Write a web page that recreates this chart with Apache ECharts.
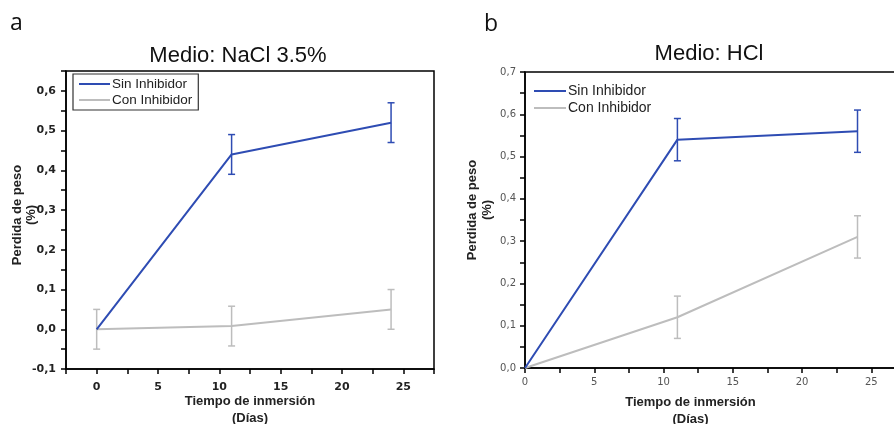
<!DOCTYPE html>
<html><head><meta charset="utf-8">
<script src="https://cdn.jsdelivr.net/npm/echarts@6/dist/echarts.min.js"></script>
<style>html,body{margin:0;padding:0;background:#fff}#c{width:894px;height:424px}</style>
</head><body><div id="c"></div>
<script>
// ---- data ----
const days = [0, 11, 24];
const aSin = [0, 0.44, 0.52];
const aSinErr = [0, 0.05, 0.05];
const aCon = [0, 0.008, 0.05];
const aConErr = [0.05, 0.05, 0.05];
const bSin = [0, 0.54, 0.56];
const bSinErr = [0, 0.05, 0.05];
const bCon = [0, 0.12, 0.31];
const bConErr = [0, 0.05, 0.05];
const seriesNames = ['Sin Inhibidor', 'Con Inhibidor'];
const titles = ['Medio: NaCl 3.5%', 'Medio: HCl'];
const panelLetters = ['a', 'b'];
const yName = 'Perdida de peso\n(%)';
const xName = 'Tiempo de inmersión\n(Días)';

const BLUE = '#2e4cb3', GRAY = '#bdbdbd';
const FONT = 'Liberation Sans, Arial, sans-serif';
const TICKFONT = 'DejaVu Sans, Verdana, sans-serif';

function pts(ys){ return days.map((d,i)=>[d, ys[i]]); }
function errPts(ys, es){
  const out = [];
  days.forEach((d,i)=>{ if (es[i] > 0) out.push([d, ys[i]-es[i], ys[i]+es[i]]); });
  return out;
}
function errRender(color, cap){
  return function(params, api){
    const x = api.value(0), lo = api.value(1), hi = api.value(2);
    const p1 = api.coord([x, hi]), p2 = api.coord([x, lo]);
    const st = {stroke: color, lineWidth: 1.5};
    return {type:'group', children:[
      {type:'line', shape:{x1:p1[0],y1:p1[1],x2:p2[0],y2:p2[1]}, style:st},
      {type:'line', shape:{x1:p1[0]-cap,y1:p1[1],x2:p1[0]+cap,y2:p1[1]}, style:st},
      {type:'line', shape:{x1:p2[0]-cap,y1:p2[1],x2:p2[0]+cap,y2:p2[1]}, style:st}
    ]};
  };
}
const fmtY = v => (Math.abs(v*10 - Math.round(v*10)) < 1e-6) ? v.toFixed(1).replace('.', ',').replace('-0,0','0,0') : '';
const fmtX = v => (Math.abs(v % 5) < 1e-6 && v >= 0 && v <= 25) ? String(v) : '';

const chart = echarts.init(document.getElementById('c'), null, {renderer:'canvas'});
const axisLine = {show:true, onZero:false, lineStyle:{color:'#000', width:1.5}};

chart.setOption({
  animation:false,
  backgroundColor:'#fff',
  title:[
    {text:panelLetters[0], left:5, top:7, textStyle:{fontFamily:'Open Sans, sans-serif', fontSize:23, fontWeight:'normal', color:'#111'}},
    {text:panelLetters[1], left:479, top:8, textStyle:{fontFamily:'Open Sans, sans-serif', fontSize:23, fontWeight:'normal', color:'#111'}},
    {text:titles[0], left:233, top:40, textAlign:'center', textStyle:{fontFamily:FONT, fontSize:22, fontWeight:'normal', color:'#111'}},
    {text:titles[1], left:704, top:38, textAlign:'center', textStyle:{fontFamily:FONT, fontSize:22, fontWeight:'normal', color:'#111'}}
  ],
  legend:[
    {data:seriesNames, orient:'vertical', left:73, top:74, itemWidth:31, itemHeight:2, icon:'rect', itemGap:2,
     padding:[3,6,3,6], borderColor:'#333', borderWidth:1.2,
     textStyle:{fontFamily:FONT, fontSize:13.5, color:'#222', padding:[0,0,0,-3]}},
    {data:seriesNames, orient:'vertical', left:530, top:84, itemWidth:32, itemHeight:2, icon:'rect', itemGap:3,
     padding:[0,0,0,4],
     textStyle:{fontFamily:FONT, fontSize:14, color:'#222', padding:[0,0,0,-3]}}
  ],
  grid:[
    {left:66, top:71, width:368, height:298, show:true, borderColor:'#000', borderWidth:1.5, outerBoundsMode:'none', containLabel:false},
    {left:525, top:72, width:381, height:296, show:true, borderColor:'#000', borderWidth:1.5, outerBoundsMode:'none', containLabel:false}
  ],
  xAxis:[
    {gridIndex:0, type:'value', min:-2.5, max:27.5, interval:2.5, axisLine,
     axisTick:{show:true, inside:false, length:5, lineStyle:{color:'#000', width:1.5}},
     splitLine:{show:false},
     axisLabel:{formatter:fmtX, margin:13, fontFamily:TICKFONT, fontSize:11, fontWeight:'bold', color:'#222'},
     name:xName, nameLocation:'middle', nameGap:24, nameMoveOverlap:false,
     nameTextStyle:{fontFamily:FONT, fontSize:13, fontWeight:'bold', color:'#222', lineHeight:17, verticalAlign:'top'}},
    {gridIndex:1, type:'value', min:0, max:27.5, interval:2.5, axisLine,
     axisTick:{show:true, inside:false, length:5, lineStyle:{color:'#000', width:1.5}},
     splitLine:{show:false},
     axisLabel:{formatter:fmtX, margin:9, fontFamily:TICKFONT, fontSize:10, color:'#555'},
     name:xName, nameLocation:'middle', nameGap:26, nameMoveOverlap:false,
     nameTextStyle:{fontFamily:FONT, fontSize:13, fontWeight:'bold', color:'#222', lineHeight:17, verticalAlign:'top', padding:[0,50,0,0]}}
  ],
  yAxis:[
    {gridIndex:0, type:'value', min:-0.1, max:0.65, interval:0.05, axisLine,
     axisTick:{show:true, inside:false, length:5, lineStyle:{color:'#000', width:1.5}},
     splitLine:{show:false},
     axisLabel:{formatter:fmtY, margin:10, fontFamily:TICKFONT, fontSize:11, fontWeight:'bold', color:'#222'},
     name:yName, nameLocation:'middle', nameRotate:90, nameGap:28, nameMoveOverlap:false,
     nameTextStyle:{fontFamily:FONT, fontSize:13, fontWeight:'bold', color:'#222', lineHeight:14, padding:[0,0,0,10]}},
    {gridIndex:1, type:'value', min:0, max:0.7, interval:0.05, axisLine,
     axisTick:{show:true, inside:false, length:5, lineStyle:{color:'#000', width:1.5}},
     splitLine:{show:false},
     axisLabel:{formatter:fmtY, margin:9, fontFamily:TICKFONT, fontSize:10, color:'#555'},
     name:yName, nameLocation:'middle', nameRotate:90, nameGap:30, nameMoveOverlap:false,
     nameTextStyle:{fontFamily:FONT, fontSize:13, fontWeight:'bold', color:'#222', lineHeight:15, padding:[0,0,0,20]}}
  ],
  series:[
    {name:seriesNames[1], type:'line', xAxisIndex:0, yAxisIndex:0, data:pts(aCon), showSymbol:false, color:GRAY, lineStyle:{width:2, color:GRAY}, z:2},
    {name:seriesNames[0], type:'line', xAxisIndex:0, yAxisIndex:0, data:pts(aSin), showSymbol:false, color:BLUE, lineStyle:{width:2, color:BLUE}, z:3},
    {name:'errA1', type:'custom', xAxisIndex:0, yAxisIndex:0, data:errPts(aCon, aConErr), renderItem:errRender(GRAY, 3.5), z:2},
    {name:'errA0', type:'custom', xAxisIndex:0, yAxisIndex:0, data:errPts(aSin, aSinErr), renderItem:errRender(BLUE, 3.5), z:3},
    {name:seriesNames[1], type:'line', xAxisIndex:1, yAxisIndex:1, data:pts(bCon), showSymbol:false, color:GRAY, lineStyle:{width:2, color:GRAY}, z:2},
    {name:seriesNames[0], type:'line', xAxisIndex:1, yAxisIndex:1, data:pts(bSin), showSymbol:false, color:BLUE, lineStyle:{width:2, color:BLUE}, z:3},
    {name:'errB1', type:'custom', xAxisIndex:1, yAxisIndex:1, data:errPts(bCon, bConErr), renderItem:errRender(GRAY, 3.5), z:2},
    {name:'errB0', type:'custom', xAxisIndex:1, yAxisIndex:1, data:errPts(bSin, bSinErr), renderItem:errRender(BLUE, 3.5), z:3}
  ]
});
</script></body></html>
